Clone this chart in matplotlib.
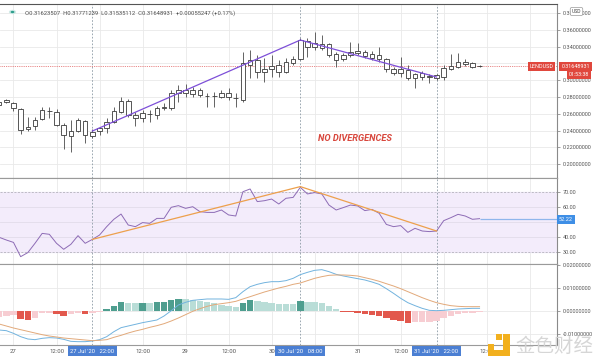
import numpy as np
import matplotlib
matplotlib.use("Agg")
import matplotlib.pyplot as plt
from matplotlib.patches import Rectangle, Circle
from matplotlib.transforms import blended_transform_factory

plt.rcParams['font.family'] = ['Roboto', 'Noto Sans CJK SC', 'DejaVu Sans']

# ---------------- data (2-hour candles, index 0 = 27 Jul 00:00) ----------------
bar_index = list(range(-2, 66))

opens = [0.2704, 0.2763, 0.2727, 0.2656, 0.2418, 0.2454, 0.2537, 0.2632, 0.2620, 0.2466,
         0.2335, 0.2394, 0.2513, 0.2335, 0.2394, 0.2430, 0.2501, 0.2620, 0.2751, 0.2585,
         0.2549, 0.2597, 0.2585, 0.2668, 0.2668, 0.2846, 0.2882, 0.2835, 0.2882, 0.2811,
         0.2811, 0.2799, 0.2846, 0.2787, 0.2763, 0.3180, 0.3239, 0.3096, 0.3132, 0.3180,
         0.3096, 0.3204, 0.3251, 0.3465, 0.3394, 0.3430, 0.3430, 0.3311, 0.3251, 0.3299,
         0.3323, 0.3335, 0.3311, 0.3299, 0.3251, 0.3132, 0.3085, 0.3120, 0.3025, 0.3085,
         0.3049, 0.3025, 0.3037, 0.3132, 0.3156, 0.3215, 0.3204, 0.31623507]
highs = [0.2763, 0.2775, 0.2739, 0.2668, 0.2561, 0.2561, 0.2680, 0.2680, 0.2656, 0.2489,
         0.2525, 0.2549, 0.2525, 0.2418, 0.2442, 0.2549, 0.2680, 0.2799, 0.2775, 0.2620,
         0.2644, 0.2644, 0.2692, 0.2727, 0.2882, 0.2942, 0.2954, 0.2918, 0.2906, 0.2846,
         0.2858, 0.2882, 0.2906, 0.2846, 0.3335, 0.3358, 0.3299, 0.3263, 0.3299, 0.3239,
         0.3263, 0.3287, 0.3501, 0.3501, 0.3573, 0.3537, 0.3442, 0.3335, 0.3323, 0.3454,
         0.3442, 0.3358, 0.3346, 0.3394, 0.3263, 0.3156, 0.3275, 0.3180, 0.3085, 0.3108,
         0.3073, 0.3073, 0.3180, 0.3311, 0.3323, 0.3251, 0.3215, 0.31771239]
lows = [0.2680, 0.2727, 0.2632, 0.2359, 0.2394, 0.2406, 0.2525, 0.2549, 0.2454, 0.2180,
        0.2144, 0.2382, 0.2251, 0.2311, 0.2347, 0.2370, 0.2489, 0.2608, 0.2561, 0.2454,
        0.2501, 0.2501, 0.2537, 0.2644, 0.2644, 0.2739, 0.2799, 0.2799, 0.2799, 0.2680,
        0.2680, 0.2787, 0.2763, 0.2680, 0.2739, 0.3025, 0.3025, 0.2977, 0.3037, 0.3037,
        0.3085, 0.3180, 0.3239, 0.3275, 0.3358, 0.3358, 0.3275, 0.3156, 0.3227, 0.3275,
        0.3299, 0.3263, 0.3239, 0.3215, 0.3096, 0.3061, 0.3037, 0.3001, 0.2906, 0.3001,
        0.2966, 0.3001, 0.3001, 0.3120, 0.3144, 0.3168, 0.3144, 0.31535112]
closes = [0.2739, 0.2739, 0.2668, 0.2406, 0.2442, 0.2525, 0.2644, 0.2630, 0.2466, 0.2347,
          0.2394, 0.2525, 0.2347, 0.2382, 0.2430, 0.2501, 0.2632, 0.2751, 0.2585, 0.2549,
          0.2608, 0.2595, 0.2668, 0.2680, 0.2846, 0.2882, 0.2846, 0.2882, 0.2823, 0.2809,
          0.2813, 0.2846, 0.2799, 0.2789, 0.3204, 0.3239, 0.3096, 0.3132, 0.3168, 0.3096,
          0.3215, 0.3251, 0.3477, 0.3394, 0.3442, 0.3382, 0.3299, 0.3239, 0.3299, 0.3335,
          0.3346, 0.3287, 0.3263, 0.3251, 0.3132, 0.3085, 0.3132, 0.3025, 0.3073, 0.3037,
          0.3037, 0.3061, 0.3144, 0.3168, 0.3215, 0.3192, 0.3156, 0.31648931]

rsi = [39.8, 38.0, 36.4, 26.9, 29.6, 35.8, 42.4, 41.8, 35.8, 31.8,
       35.1, 40.9, 35.8, 38.4, 41.3, 46.9, 51.8, 55.3, 48.0, 46.9,
       49.6, 49.1, 52.4, 52.4, 59.8, 60.9, 59.1, 60.2, 56.9, 56.4,
       56.4, 58.0, 54.7, 54.0, 70.2, 72.0, 63.6, 64.2, 65.3, 62.0,
       65.8, 66.4, 73.1, 68.7, 69.6, 68.7, 61.3, 58.0, 59.6, 61.3,
       60.7, 57.6, 58.4, 55.8, 48.4, 46.9, 47.6, 43.1, 45.8, 44.0,
       43.6, 44.0, 50.9, 52.9, 55.1, 54.0, 51.8, 52.22]

macd_line = [-0.00826, -0.00855, -0.00971, -0.01116, -0.01217, -0.01246, -0.01188, -0.01159, -0.01174, -0.01232,
             -0.01319, -0.01333, -0.01333, -0.01304, -0.01246, -0.01116, -0.00899, -0.00725, -0.00652, -0.00580,
             -0.00507, -0.00449, -0.00391, -0.00217, 0.00014, 0.00261, 0.00377, 0.00464, 0.00493, 0.00522,
             0.00522, 0.00522, 0.00507, 0.00580, 0.00841, 0.01058, 0.01159, 0.01232, 0.01275, 0.01275,
             0.01319, 0.01420, 0.01580, 0.01681, 0.01768, 0.01797, 0.01710, 0.01594, 0.01522, 0.01464,
             0.01406, 0.01348, 0.01261, 0.01159, 0.00971, 0.00768, 0.00551, 0.00362, 0.00232, 0.00116,
             0.00029, 0.00014, 0.00029, 0.00058, 0.00087, 0.00101, 0.00116, 0.00116]
signal_line = [-0.00565, -0.00652, -0.00739, -0.00812, -0.00884, -0.00957, -0.01029, -0.01087, -0.01130, -0.01174,
               -0.01203, -0.01232, -0.01261, -0.01290, -0.01275, -0.01246, -0.01145, -0.01058, -0.00957, -0.00870,
               -0.00797, -0.00710, -0.00638, -0.00551, -0.00435, -0.00304, -0.00159, -0.00014, 0.00101, 0.00203,
               0.00275, 0.00319, 0.00362, 0.00420, 0.00522, 0.00623, 0.00725, 0.00826, 0.00913, 0.01000,
               0.01072, 0.01159, 0.01217, 0.01319, 0.01420, 0.01493, 0.01551, 0.01565, 0.01565, 0.01551,
               0.01522, 0.01449, 0.01377, 0.01290, 0.01188, 0.01087, 0.00971, 0.00841, 0.00710, 0.00580,
               0.00464, 0.00362, 0.00290, 0.00232, 0.00203, 0.00188, 0.00188, 0.00188]
histogram = [-0.00246, -0.00217, -0.00174, -0.00348, -0.00391, -0.00319, -0.00101, -0.00072, -0.00130, -0.00203,
             -0.00145, -0.00072, -0.00130, -0.00072, -0.00029, 0.00072, 0.00217, 0.00377, 0.00362, 0.00348,
             0.00362, 0.00333, 0.00377, 0.00391, 0.00478, 0.00522, 0.00507, 0.00478, 0.00449, 0.00377,
             0.00333, 0.00261, 0.00217, 0.00159, 0.00333, 0.00478, 0.00449, 0.00406, 0.00333, 0.00304,
             0.00297, 0.00290, 0.00435, 0.00406, 0.00377, 0.00333, 0.00217, 0.00072, -0.00029, -0.00043,
             -0.00072, -0.00145, -0.00174, -0.00203, -0.00319, -0.00391, -0.00435, -0.00507, -0.00493, -0.00486,
             -0.00464, -0.00435, -0.00319, -0.00217, -0.00145, -0.00101, -0.00072, -0.00029]

price_trend_idx = [11, 40, 59]
price_trend_val = [0.2394, 0.3477, 0.3037]
rsi_trend_idx = [11, 40, 59]
rsi_trend_val = [38.4, 73.6, 44.0]

marked_idx = [11, 40, 59]
marked_labels = ["27 Jul '20   22:00", "30 Jul '20   08:00", "31 Jul '20   22:00"]

xtick_idx = [0, 6, 18, 24, 30, 36, 48, 54, 66]
xtick_labels = ["27", "12:00", "12:00", "29", "12:00", "30", "31", "12:00", "12:00"]
vgrid_idx = list(range(0, 76, 6))

price_grid = [0.20, 0.22, 0.24, 0.26, 0.28, 0.30, 0.32, 0.34, 0.36, 0.38]
price_ticks = [0.20, 0.22, 0.24, 0.26, 0.28, 0.30, 0.34, 0.36, 0.38]
rsi_ticks = [30, 40, 60, 70]
rsi_grid = [40, 50, 60]
macd_ticks = [0.02, 0.01, 0.0, -0.01]

last_price = 0.31648931
last_rsi = 52.22
countdown = "01:53:38"
symbol = "LENDUSD"
header = "O0.31623507  H0.31771239  L0.31535112  C0.31648931  +0.00055247 (+0.17%)"
annotation = "NO DIVERGENCES"
annotation_pos = (47.6, 0.2311)
watermark = "金色财经"

# ---------------- layout ----------------
W, H = 600, 362
fig = plt.figure(figsize=(W / 100, H / 100), dpi=100)
fig.patch.set_facecolor('white')
PLOT_R = 557


def rect(top, bottom):
    return [0, 1 - bottom / H, PLOT_R / W, (bottom - top) / H]


ax_p = fig.add_axes(rect(4, 178))
ax_r = fig.add_axes(rect(178, 264))
ax_m = fig.add_axes(rect(264, 345))
XL = (-1.88, 75.8)

GRID = '#e9e9e9'
TXT = '#555555'
for ax in (ax_p, ax_r, ax_m):
    ax.set_xlim(*XL)
    ax.set_facecolor('white')
    ax.spines['left'].set_visible(False)
    ax.spines['right'].set_color('#8a8a8a')
    ax.spines['right'].set_linewidth(0.8)
    for s in ('top', 'bottom'):
        ax.spines[s].set_color('#9a9a9a')
        ax.spines[s].set_linewidth(0.8)
    ax.yaxis.tick_right()
    ax.tick_params(axis='y', labelsize=4, colors='#777777', labelcolor=TXT, length=2.5, width=0.5, pad=1.5)
    ax.tick_params(axis='x', length=0)
    for g in vgrid_idx:
        ax.axvline(g, color=GRID, lw=0.6, zorder=0)
    for m in marked_idx:
        ax.axvline(m, color='#8c9aa5', lw=0.6, ls=(0, (2, 2)), zorder=1)
ax_p.spines['top'].set_color('#555555')
ax_p.spines['bottom'].set_color('#666666')
ax_p.set_xticks([])
ax_r.set_xticks([])

# ---------------- price pane ----------------
ax_p.set_ylim(0.1835, 0.3906)
ax_p.set_yticks(price_ticks)
ax_p.set_yticklabels([f"{v:.8f}" for v in price_ticks])
for v in price_grid:
    ax_p.axhline(v, color=GRID, lw=0.6, zorder=0)

o = np.array(opens); c = np.array(closes)
ax_p.vlines(bar_index, lows, highs, color='#4a4a4a', lw=0.6, zorder=3)
ax_p.bar(bar_index, np.abs(c - o), bottom=np.minimum(o, c), width=0.64,
         color='white', edgecolor='#3a3a3a', linewidth=0.6, zorder=4)
ax_p.plot(price_trend_idx, price_trend_val, color='#7d4fd8', lw=0.9, zorder=5)
ax_p.axhline(last_price, color='#e06060', lw=0.6, ls=(0, (1, 1.2)), zorder=2)
ax_p.text(annotation_pos[0], annotation_pos[1], annotation, color='#d8473d', fontsize=6.7,
          fontweight='bold', fontstyle='italic', ha='center', va='center', zorder=6)

# ---------------- RSI pane ----------------
ax_r.set_ylim(22.0, 79.33)
ax_r.axhspan(30, 70, color='#f3ecfb', zorder=0)
for g in rsi_grid:
    ax_r.axhline(g, color='#e2dcea', lw=0.6, zorder=0.5)
for b in (30, 70):
    ax_r.axhline(b, color='#a8a8b0', lw=0.5, ls=(0, (3, 2)), zorder=0.6)
ax_r.set_yticks(rsi_ticks)
ax_r.set_yticklabels([f"{v:.2f}" for v in rsi_ticks])
ax_r.plot(bar_index, rsi, color='#8d6bb5', lw=0.7, zorder=3)
ax_r.plot(rsi_trend_idx, rsi_trend_val, color='#eda04c', lw=0.9, zorder=4)
ax_r.hlines(last_rsi, bar_index[-1], XL[1], color='#8fb6ec', lw=0.9, zorder=3)

# ---------------- MACD pane ----------------
ax_m.set_ylim(-0.01478, 0.02043)
ax_m.set_yticks(macd_ticks)
ax_m.set_yticklabels([f"{v:.8f}" for v in macd_ticks])
for v in macd_ticks[1:]:
    ax_m.axhline(v, color=GRID, lw=0.6, zorder=0)
hist_colors = []
for k, h in enumerate(histogram):
    prev = histogram[k - 1] if k > 0 else h
    if h >= 0:
        hist_colors.append('#4e9e8f' if h > prev else '#b9ddd7')
    else:
        hist_colors.append('#e2584d' if h < prev else '#f7cdd2')
ax_m.bar(bar_index, histogram, width=0.9, color=hist_colors, zorder=2)
ax_m.plot(bar_index, macd_line, color='#72b3de', lw=0.7, zorder=3)
ax_m.plot(bar_index, signal_line, color='#e2a97a', lw=0.7, zorder=3)

ax_m.set_xticks(xtick_idx)
ax_m.set_xticklabels(xtick_labels)
ax_m.tick_params(axis='x', labelsize=4.3, labelcolor=TXT, pad=3)
tr = blended_transform_factory(ax_m.transData, ax_m.transAxes)
for m, lab in zip(marked_idx, marked_labels):
    ax_m.text(m, -0.075, lab, transform=tr, ha='center', va='center', fontsize=4.2,
              color='white', clip_on=False, zorder=10,
              bbox=dict(boxstyle='square,pad=0.45', fc='#4b7fd3', ec='none'))


# ---------------- overlays in pixel coordinates ----------------
def fx(x):
    return x / W


def fy(y):
    return 1 - y / H


fig.text(fx(541.5), fy(66.6), symbol, ha='center', va='center', fontsize=3.9, color='white',
         bbox=dict(boxstyle='square,pad=0.35', fc='#e0473d', ec='none'), zorder=20)
fig.text(fx(575.5), fy(66.6), f"{last_price:.8f}", ha='center', va='center', fontsize=3.9,
         color='white', bbox=dict(boxstyle='square,pad=0.35', fc='#e0473d', ec='none'), zorder=20)
fig.text(fx(579), fy(74.6), countdown, ha='center', va='center', fontsize=3.9, color='white',
         bbox=dict(boxstyle='square,pad=0.35', fc='#e0473d', ec='none'), zorder=20)
fig.text(fx(576.5), fy(11.5), "USD", ha='center', va='center', fontsize=3.6, color='#444444',
         bbox=dict(boxstyle='round,pad=0.3,rounding_size=0.3', fc='white', ec='#999999', lw=0.5), zorder=20)
fig.text(fx(566), fy(219.3), f"{last_rsi:.2f}", ha='center', va='center', fontsize=4,
         color='white', bbox=dict(boxstyle='square,pad=0.35', fc='#3f8fe6', ec='none'), zorder=20)

# header
fig.patches.append(Circle((fx(12.5), fy(12)), 3.6 / W, transform=fig.transFigure,
                          fc='#cfeae6', ec='none', zorder=20))
fig.patches.append(Circle((fx(12.5), fy(12)), 1.9 / W, transform=fig.transFigure,
                          fc='#2e9e8c', ec='none', zorder=21))
fig.text(fx(25), fy(13.5), header, ha='left', va='center', fontsize=4.2, color='#4d4d4d', zorder=20)

# watermark
fig.text(fx(554), fy(346), watermark, ha='center', va='center', fontsize=14,
         family=['Noto Sans CJK SC'], color='#d4d4d4', alpha=0.95, zorder=30)
LOGO = '#f2b01e'
for (x0, y0, x1, y1) in [(496, 334, 502, 340), (503, 334, 509.5, 356), (488, 350, 509.5, 356), (488, 344, 493.5, 350)]:
    fig.patches.append(Rectangle((fx(x0), fy(y1)), (x1 - x0) / W, (y1 - y0) / H,
                                 transform=fig.transFigure, fc=LOGO, ec='none', zorder=30))

fig.savefig("out.png", dpi=100, facecolor='white')
